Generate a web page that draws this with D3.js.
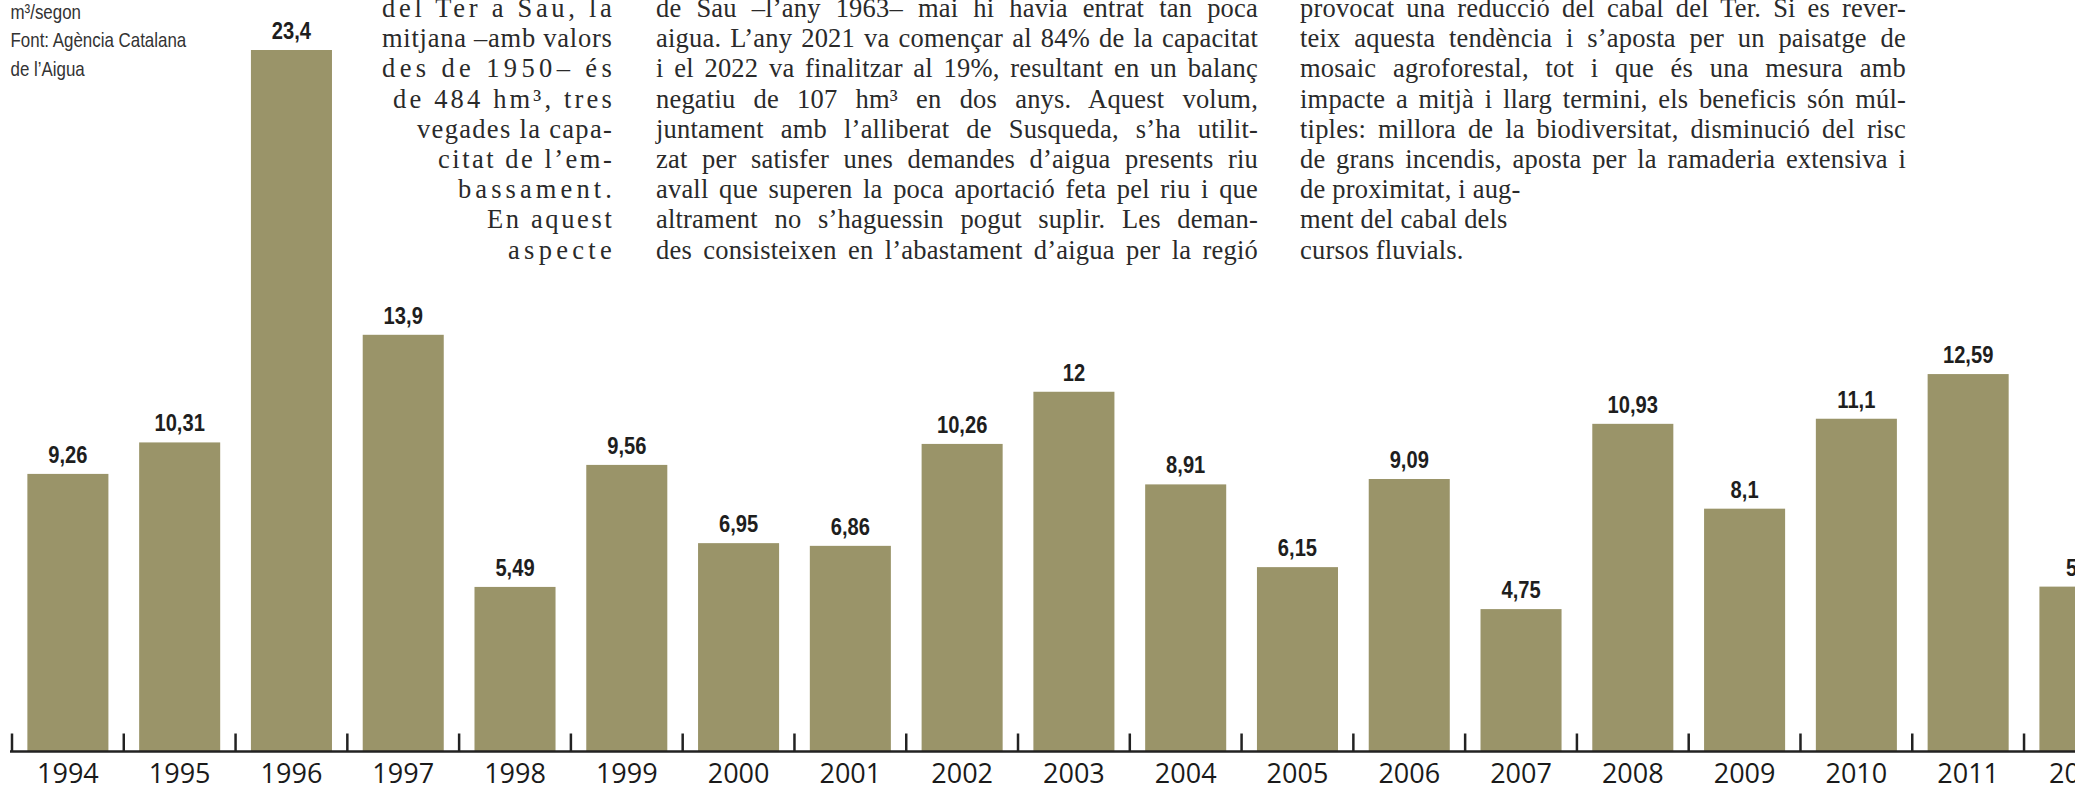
<!DOCTYPE html>
<html>
<head>
<meta charset="utf-8">
<script src="https://d3js.org/d3.v7.min.js"></script>
<style>
  body { margin: 0; overflow: hidden; background: #fff; }
</style>
</head>
<body>
<script>
var w = 2075
var h = 785

// data
var years = [1994, 1995, 1996, 1997, 1998, 1999, 2000, 2001, 2002, 2003,
             2004, 2005, 2006, 2007, 2008, 2009, 2010, 2011, 2012]
var flows = [9.26, 10.31, 23.4, 13.9, 5.49, 9.56, 6.95, 6.86, 10.26, 12,
             8.91, 6.15, 9.09, 4.75, 10.93, 8.1, 11.1, 12.59, 5.5]
var yearLabels = years.map(String)

var unitLines = ['m³/segon', 'Font: Agència Catalana', 'de l’Aigua']

var col1Lines = [
  'del Ter a Sau, la',
  'mitjana –amb valors',
  'des de 1950– és',
  'de 484 hm³, tres',
  'vegades la capa-',
  'citat de l’em-',
  'bassament.',
  'En aquest',
  'aspecte'
]
var col2Lines = [
  'de Sau –l’any 1963– mai hi havia entrat tan poca',
  'aigua. L’any 2021 va començar al 84% de la capacitat',
  'i el 2022 va finalitzar al 19%, resultant en un balanç',
  'negatiu de 107 hm³ en dos anys. Aquest volum,',
  'juntament amb l’alliberat de Susqueda, s’ha utilit-',
  'zat per satisfer unes demandes d’aigua presents riu',
  'avall que superen la poca aportació feta pel riu i que',
  'altrament no s’haguessin pogut suplir. Les deman-',
  'des consisteixen en l’abastament d’aigua per la regió'
]
var col3Lines = [
  'provocat una reducció del cabal del Ter. Si es rever-',
  'teix aquesta tendència i s’aposta per un paisatge de',
  'mosaic agroforestal, tot i que és una mesura amb',
  'impacte a mitjà i llarg termini, els beneficis són múl-',
  'tiples: millora de la biodiversitat, disminució del risc',
  'de grans incendis, aposta per la ramaderia extensiva i',
  'de proximitat, i aug-',
  'ment del cabal dels',
  'cursos fluvials.'
]

// layout
var base = 751.5
var col1Left = [382, 382, 382, 393, 417, 438, 458, 487, 508]
var col1Right = 612
var lineH = 30.2
var firstBase = 17
var condensed = 0.84

var svg = d3.select('body').append('svg')
  .attr('width', w)
  .attr('height', h)

var x = d3.scaleBand()
  .domain(years)
  .range([12, 12 + 111.78 * years.length])
  .paddingInner(0.275)
  .paddingOuter(0.1375)

var y = d3.scaleLinear()
  .domain([0, 23.4])
  .range([base, 50])

var fmt = d3.formatLocale({decimal: ',', thousands: '.', grouping: [3], currency: ['', '€']}).format('')

// bars
svg.selectAll('rect.bar')
  .data(years)
  .enter()
  .append('rect')
  .attr('class', 'bar')
  .attr('x', function(d){ return x(d) })
  .attr('width', x.bandwidth())
  .attr('y', function(d, i){ return y(flows[i]) })
  .attr('height', function(d, i){ return base - y(flows[i]) })
  .attr('fill', '#9a9469')

// value labels (condensed by a horizontal squeeze)
svg.selectAll('text.val')
  .data(years)
  .enter()
  .append('text')
  .attr('class', 'val')
  .attr('transform', function(d, i){
    return 'translate(' + (x(d) + x.bandwidth() / 2) + ',' + (y(flows[i]) - 11) + ') scale(' + condensed + ',1)'
  })
  .attr('text-anchor', 'middle')
  .attr('font-family', '"Liberation Sans", Arial, sans-serif')
  .attr('font-weight', 'bold')
  .attr('font-size', '24px')
  .attr('fill', '#1e1e1e')
  .text(function(d, i){ return fmt(flows[i]) })

// x axis
var axis = svg.append('g')
  .attr('transform', 'translate(0,' + base + ')')
  .call(d3.axisBottom(x).tickSize(0).tickFormat(function(d, i){ return yearLabels[i] }))

axis.select('.domain')
  .attr('d', 'M10,0H' + w)
  .attr('stroke', '#222')
  .attr('stroke-width', 2.5)

axis.selectAll('.tick text')
  .attr('y', 31)
  .attr('dy', 0)
  .attr('font-family', '"Open Sans", sans-serif')
  .attr('font-size', '27px')
  .attr('fill', '#1a1a1a')

var half = x.step() * x.paddingInner() / 2
svg.selectAll('line.sep')
  .data(years)
  .enter()
  .append('line')
  .attr('class', 'sep')
  .attr('x1', function(d){ return x(d) - half })
  .attr('x2', function(d){ return x(d) - half })
  .attr('y1', base - 18)
  .attr('y2', base)
  .attr('stroke', '#222')
  .attr('stroke-width', 2.5)

// unit / source note
svg.selectAll('text.unit')
  .data(unitLines)
  .enter()
  .append('text')
  .attr('class', 'unit')
  .attr('transform', function(d, i){ return 'translate(10.5,' + (18.5 + i * 28.7) + ') scale(0.825,1)' })
  .attr('font-family', '"Liberation Sans", Arial, sans-serif')
  .attr('font-size', '20.5px')
  .attr('fill', '#333')
  .text(function(d){ return d })

// body text columns
function serif(sel) {
  return sel
    .attr('font-family', '"Liberation Serif", serif')
    .attr('font-size', '26.5px')
    .attr('letter-spacing', '0.2px')
    .attr('fill', '#2a2a2a')
}

svg.selectAll('text.c1')
  .data(col1Lines)
  .enter()
  .append('text')
  .attr('class', 'c1')
  .attr('x', function(d, i){ return col1Left[i] })
  .attr('y', function(d, i){ return firstBase + i * lineH })
  .call(serif)
  .attr('textLength', function(d, i){ return col1Right - col1Left[i] })
  .attr('lengthAdjust', 'spacing')
  .text(function(d){ return d })

function column(lines, cls, left, right, justifyCount) {
  svg.selectAll('text.' + cls)
    .data(lines)
    .enter()
    .append('text')
    .attr('class', cls)
    .attr('x', left)
    .attr('y', function(d, i){ return firstBase + i * lineH })
    .call(serif)
    .text(function(d){ return d })
    .each(function(d, i){
      if (i >= justifyCount) return
      var tw = this.getComputedTextLength()
      var gaps = (d.match(/ /g) || []).length
      if (gaps) d3.select(this).attr('word-spacing', (right - left - tw) / gaps)
    })
}

column(col2Lines, 'c2', 656, 1258, col2Lines.length)
column(col3Lines, 'c3', 1300, 1906, 6)
</script>
</body>
</html>
